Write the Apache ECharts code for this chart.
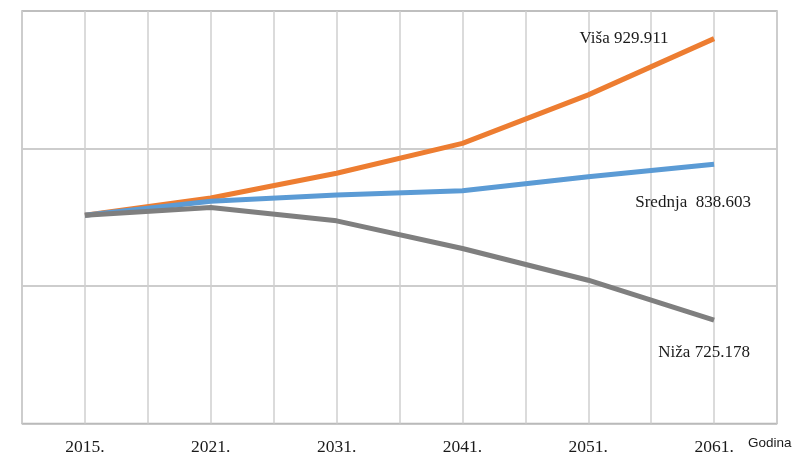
<!DOCTYPE html>
<html>
<head>
<meta charset="utf-8">
<script src="https://cdn.jsdelivr.net/npm/echarts@6/dist/echarts.min.js"></script>
<style>html,body{margin:0;padding:0;background:#fff;}#c{width:797px;height:453px;}</style>
</head>
<body>
<div id="c"></div>
<script>
var years = ['2015', '2021', '2031', '2041', '2051', '2061'];
var visa = [801.5, 814.0, 832.0, 853.7, 889.0, 929.911];
var srednja = [801.5, 811.7, 816.1, 819.2, 829.4, 838.603];
var niza = [801.5, 807.1, 797.4, 777.3, 754.2, 725.178];
var seriesNames = ['Viša', 'Srednja', 'Niža'];
var endTexts = ['Viša 929.911', 'Srednja  838.603', 'Niža 725.178'];
var axisName = 'Godina';

var serif = '"Liberation Serif", "Times New Roman", serif';
var colors = ['#ED7D31', '#5B9BD5', '#7F7F7F'];
var offsets = [[-90, 0], [-21, 38], [-10, 32]];

function mk(vals, idx) {
  return vals.map(function (v, i) {
    var item = { value: [2 * i + 1, v] };
    if (i === vals.length - 1) {
      item.label = {
        show: true,
        position: 'inside',
        formatter: endTexts[idx],
        offset: offsets[idx],
        fontFamily: serif,
        fontSize: 17,
        color: '#1a1a1a'
      };
    }
    return item;
  });
}

var chart = echarts.init(document.getElementById('c'), null, { renderer: 'canvas' });
chart.setOption({
  animation: false,
  backgroundColor: '#fff',
  title: {
    text: axisName, left: 743, top: 431,
    textStyle: { fontFamily: '"Liberation Sans", Arial, sans-serif', fontSize: 13.5, fontWeight: 'normal', color: '#1a1a1a' }
  },
  grid: { left: 22, right: 20, top: 11, bottom: 29.5, show: true, borderColor: '#b4b4b4', borderWidth: 1.5, outerBoundsMode: 'none', containLabel: false },
  xAxis: {
    type: 'value', min: 0, max: 12, interval: 1,
    axisLine: { show: false }, axisTick: { show: false },
    splitLine: { show: true, lineStyle: { color: '#cfcfcf', width: 1.5 } },
    axisLabel: {
      margin: 15, fontFamily: serif, fontSize: 17.5, color: '#1a1a1a',
      formatter: function (v) { return (v % 2 === 1) ? years[(v - 1) / 2] + '.' : ''; }
    }
  },
  yAxis: {
    type: 'value', min: 650, max: 950, interval: 50,
    axisLine: { show: false }, axisTick: { show: false }, axisLabel: { show: false },
    splitLine: { show: true, lineStyle: { color: ['#bdbdbd', 'rgba(0,0,0,0)'], width: 1.5 } }
  },
  series: [
    { name: seriesNames[0], type: 'line', data: mk(visa, 0), symbol: 'circle', symbolSize: 0, showSymbol: true, lineStyle: { color: colors[0], width: 5 }, itemStyle: { color: colors[0] }, z: 2 },
    { name: seriesNames[1], type: 'line', data: mk(srednja, 1), symbol: 'circle', symbolSize: 0, showSymbol: true, lineStyle: { color: colors[1], width: 5 }, itemStyle: { color: colors[1] }, z: 3 },
    { name: seriesNames[2], type: 'line', data: mk(niza, 2), symbol: 'circle', symbolSize: 0, showSymbol: true, lineStyle: { color: colors[2], width: 5 }, itemStyle: { color: colors[2] }, z: 4 }
  ]
});
</script>
</body>
</html>
